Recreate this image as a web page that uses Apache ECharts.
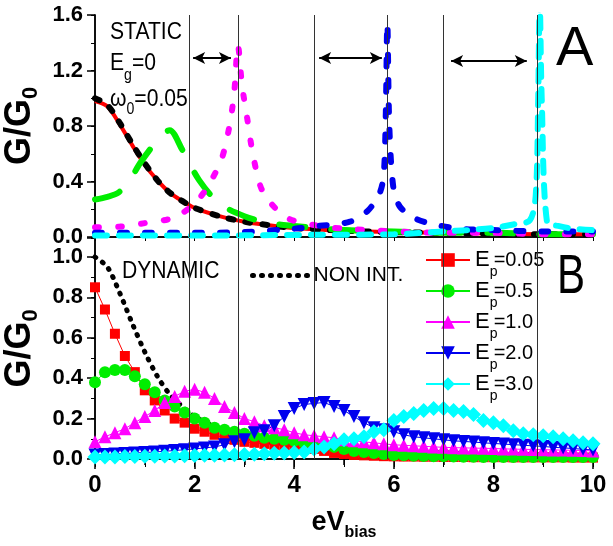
<!DOCTYPE html>
<html>
<head>
<meta charset="utf-8">
<script src="https://cdn.jsdelivr.net/npm/echarts@6/dist/echarts.min.js"></script>
<style>html,body{margin:0;padding:0;background:#fff}#c{width:613px;height:546px}</style>
</head>
<body>
<div id="c"></div>
<script>
const FONT = '"Liberation Sans", Arial, sans-serif';

// panel A (static), [eV, G/G0]
const staticRed = [[0,0.98],[0.25,0.94],[0.5,0.81],[0.75,0.66],[1,0.52],[1.25,0.41],[1.5,0.32],[1.75,0.26],[2,0.21],[2.5,0.15],[3,0.11],[3.5,0.085],[4,0.065],[5,0.045],[6,0.035],[7,0.03],[8,0.025],[9,0.02],[10,0.02]];
const staticBlack = [[0,1.0],[0.25,0.95],[0.5,0.82],[0.75,0.67],[1,0.53],[1.25,0.41],[1.5,0.32],[1.75,0.26],[2,0.21],[2.5,0.15],[3,0.11],[3.5,0.085],[4,0.065],[5,0.045],[6,0.035],[7,0.03],[8,0.025],[9,0.02],[10,0.02]];
const staticGreen = [[0,0.27],[0.25,0.29],[0.47,0.32],[0.7,0.41],[0.9,0.53],[1.26,0.70],[1.5,0.77],[1.75,0.63],[2.09,0.41],[2.5,0.24],[3,0.15],[3.5,0.10],[4,0.08],[5,0.05],[6,0.04],[7,0.03],[8,0.03],[9,0.02],[10,0.02]];
const staticMagenta = [[0,0.07],[0.5,0.075],[1,0.1],[1.5,0.13],[1.74,0.17],[2,0.24],[2.24,0.35],[2.54,0.56],[2.71,0.82],[2.8,1.06],[2.87,1.38],[2.95,1.1],[3.05,0.87],[3.19,0.56],[3.38,0.32],[3.85,0.14],[4.5,0.08],[5,0.06],[6,0.04],[7,0.03],[8,0.03],[9,0.02],[10,0.02]];
const staticBlue = [[0,0.03],[1,0.03],[2,0.03],[3,0.035],[4,0.06],[4.5,0.08],[5.12,0.11],[5.48,0.19],[5.72,0.32],[5.8,0.46],[5.84,0.9],[5.87,1.54],[5.91,0.8],[5.99,0.36],[6.12,0.22],[6.4,0.14],[6.7,0.10],[7.3,0.06],[8,0.05],[9,0.04],[10,0.04]];
const staticCyan = [[0,0.01],[2,0.01],[4,0.015],[6,0.02],[7,0.04],[7.5,0.05],[8,0.065],[8.4,0.09],[8.73,0.12],[8.85,0.3],[8.9,1.0],[8.93,1.7],[8.97,1.0],[9.08,0.10],[9.3,0.08],[9.6,0.06],[10,0.05]];

// panel B (dynamic)
const biasB = [0,0.2,0.4,0.6,0.8,1,1.2,1.4,1.6,1.8,2,2.2,2.4,2.6,2.8,3,3.2,3.4,3.6,3.8,4,4.2,4.4,4.6,4.8,5,5.2,5.4,5.6,5.8,6,6.2,6.4,6.6,6.8,7,7.2,7.4,7.6,7.8,8,8.2,8.4,8.6,8.8,9,9.2,9.4,9.6,9.8,10];
const gEp005 = [0.85,0.74,0.62,0.51,0.43,0.34,0.29,0.24,0.20,0.18,0.15,0.135,0.12,0.105,0.095,0.085,0.08,0.075,0.07,0.065,0.06,0.055,0.05,0.04,0.03,0.025,0.02,0.018,0.016,0.014,0.013,0.012,0.012,0.011,0.011,0.010,0.010,0.010,0.009,0.009,0.009,0.009,0.008,0.008,0.008,0.008,0.008,0.008,0.007,0.007,0.007];
const gEp05 = [0.38,0.43,0.44,0.44,0.41,0.37,0.33,0.29,0.26,0.23,0.20,0.18,0.155,0.145,0.135,0.125,0.115,0.105,0.10,0.095,0.09,0.08,0.075,0.07,0.06,0.05,0.04,0.035,0.03,0.025,0.02,0.018,0.016,0.015,0.014,0.013,0.012,0.011,0.011,0.010,0.010,0.010,0.010,0.010,0.010,0.010,0.010,0.010,0.010,0.010,0.010];
const gEp1 = [0.085,0.11,0.13,0.15,0.18,0.21,0.24,0.28,0.31,0.335,0.345,0.33,0.30,0.26,0.23,0.20,0.185,0.165,0.155,0.145,0.13,0.12,0.115,0.11,0.105,0.095,0.09,0.085,0.08,0.075,0.07,0.068,0.065,0.063,0.06,0.058,0.056,0.055,0.054,0.053,0.052,0.05,0.049,0.048,0.047,0.046,0.045,0.044,0.043,0.042,0.04];
const gEp2 = [0.02,0.022,0.025,0.027,0.03,0.032,0.035,0.038,0.042,0.046,0.05,0.055,0.06,0.07,0.085,0.095,0.13,0.14,0.165,0.21,0.25,0.27,0.275,0.28,0.26,0.24,0.21,0.18,0.155,0.145,0.135,0.12,0.11,0.105,0.10,0.095,0.09,0.087,0.084,0.08,0.077,0.074,0.071,0.068,0.065,0.062,0.058,0.055,0.052,0.048,0.045];
const gEp3 = [0.01,0.01,0.01,0.012,0.012,0.013,0.014,0.015,0.015,0.016,0.017,0.018,0.019,0.02,0.021,0.022,0.024,0.026,0.028,0.03,0.032,0.035,0.05,0.06,0.075,0.095,0.10,0.11,0.135,0.145,0.19,0.21,0.225,0.24,0.25,0.25,0.24,0.235,0.22,0.19,0.18,0.165,0.14,0.125,0.12,0.115,0.11,0.10,0.09,0.08,0.075];

// vertical guide lines and arrows
const guideX = [1.89, 2.87, 4.4, 5.86, 6.99, 8.88];
const arrows = [[1.97, 2.73, 1.29], [4.5, 5.76, 1.29], [7.15, 8.67, 1.268]];

const pair = ys => biasB.map((x, i) => [x, ys[i]]);
const guides = {
  silent: true, symbol: ['none', 'none'], label: {show: false},
  lineStyle: {color: '#333', width: 1, type: 'solid'},
  data: guideX.map(x => ({xAxis: x}))
};
const lbl = {fontFamily: FONT, fontWeight: 'bold', fontSize: 22, color: '#000'};
const frame = {lineStyle: {color: '#000', width: 1.5}};
const yName = {
  name: '{a|G/G}{s|0}', nameLocation: 'middle', nameGap: 46,
  nameTextStyle: {rich: {
    a: {fontFamily: FONT, fontWeight: 'bold', fontSize: 36, color: '#000', lineHeight: 36},
    s: {fontFamily: FONT, fontWeight: 'bold', fontSize: 22, color: '#000', lineHeight: 36, padding: [20, 0, 0, 0]}
  }}
};

const dashed = (name, data, color, dash, extra) => Object.assign({
  name: name, type: 'line', xAxisIndex: 0, yAxisIndex: 0, data: data,
  symbol: 'none', smooth: 0.3,
  lineStyle: {color: color, width: 6, type: dash, cap: 'round'}
}, extra || {});

const dyn = (name, ys, color, symbol, size, rot) => ({
  name: name, type: 'line', xAxisIndex: 2, yAxisIndex: 2, data: pair(ys),
  symbol: symbol, symbolSize: size, symbolRotate: rot || 0,
  itemStyle: {color: color}, lineStyle: {color: color, width: 1}
});

const txt = (left, top, text, size, sx, rich) => ({
  type: 'text', left: left, top: top, scaleX: sx,
  style: rich ? {text: text, rich: rich} : {text: text, fontFamily: FONT, fontSize: size, fill: '#000'}
});
const subRich = pad => ({
  a: {fontFamily: FONT, fontSize: 24, fill: '#000', lineHeight: 24},
  s: {fontFamily: FONT, fontSize: 16, fill: '#000', lineHeight: 24, padding: [pad, 0, 0, 0]}
});

const chart = echarts.init(document.getElementById('c'));
chart.setOption({
  animation: false,
  grid: [
    {left: 95, right: 20, top: 15, height: 222, outerBoundsMode: 'none', containLabel: false},
    {left: 95, right: 20, top: 238, height: 221, outerBoundsMode: 'none', containLabel: false}
  ],
  xAxis: [
    {gridIndex: 0, type: 'value', min: 0, max: 10, interval: 2, position: 'bottom',
      axisLine: frame, axisTick: {show: false}, axisLabel: {show: false}, splitLine: {show: false}},
    {gridIndex: 0, type: 'value', min: 0, max: 10, interval: 2, position: 'top',
      axisLine: frame, axisTick: {inside: true, length: 4}, minorTick: {show: true, splitNumber: 2, length: 4},
      axisLabel: {show: false}, splitLine: {show: false}},
    {gridIndex: 1, type: 'value', min: 0, max: 10, interval: 2, position: 'bottom',
      axisLine: frame, axisTick: {length: 10, lineStyle: {width: 1.5}},
      minorTick: {show: true, splitNumber: 2, length: 6, lineStyle: {color: '#000', width: 1.5}},
      axisLabel: Object.assign({}, lbl, {margin: 14, fontSize: 24}), splitLine: {show: false},
      name: '{a|eV}{s|bias}', nameLocation: 'middle', nameGap: 50,
      nameTextStyle: {rich: {
        a: {fontFamily: FONT, fontWeight: 'bold', fontSize: 27, color: '#000', lineHeight: 28},
        s: {fontFamily: FONT, fontWeight: 'bold', fontSize: 16, color: '#000', lineHeight: 28, padding: [20, 0, 0, 0]}
      }}},
    {gridIndex: 1, type: 'value', min: 0, max: 10, interval: 2, position: 'top',
      axisLine: frame, axisTick: {inside: true, length: 8}, minorTick: {show: true, splitNumber: 2, length: 8},
      axisLabel: {show: false}, splitLine: {show: false}}
  ],
  yAxis: [
    Object.assign({gridIndex: 0, type: 'value', min: 0, max: 1.6, interval: 0.4, position: 'left',
      axisLine: frame, axisTick: {length: 8, lineStyle: {width: 1.5}},
      minorTick: {show: true, splitNumber: 2, length: 4, lineStyle: {color: '#000'}},
      axisLabel: Object.assign({margin: 12, formatter: v => v.toFixed(1)}, lbl), splitLine: {show: false}}, yName),
    {gridIndex: 0, type: 'value', min: 0, max: 1.6, interval: 0.4, position: 'right',
      axisLine: frame, axisTick: {inside: true, length: 4}, minorTick: {show: true, splitNumber: 2, length: 4},
      axisLabel: {show: false}, splitLine: {show: false}},
    Object.assign({gridIndex: 1, type: 'value', min: 0, max: 1.094, interval: 0.2, position: 'left',
      axisLine: frame, axisTick: {length: 8, lineStyle: {width: 1.5}},
      minorTick: {show: true, splitNumber: 2, length: 4, lineStyle: {color: '#000'}},
      axisLabel: Object.assign({margin: 12, showMaxLabel: false, formatter: v => v.toFixed(1)}, lbl), splitLine: {show: false}}, yName),
    {gridIndex: 1, type: 'value', min: 0, max: 1.094, interval: 0.2, position: 'right',
      axisLine: frame, axisTick: {inside: true, length: 4}, minorTick: {show: true, splitNumber: 2, length: 4},
      axisLabel: {show: false}, splitLine: {show: false}}
  ],
  legend: [
    {data: ['Ep=0.05', 'Ep=0.5', 'Ep=1.0', 'Ep=2.0', 'Ep=3.0'], orient: 'vertical', left: 420, top: 236,
      itemWidth: 44, itemHeight: 17, itemGap: -7, selectedMode: false,
      formatter: n => '{e|E}{s|p}{n|' + n.slice(2) + '}',
      textStyle: {rich: {
        e: {fontFamily: FONT, fontSize: 22, color: '#000', lineHeight: 22},
        n: {fontFamily: FONT, fontSize: 20, color: '#000', lineHeight: 22},
        s: {fontFamily: FONT, fontSize: 14, color: '#000', lineHeight: 22, width: 4, padding: [24, 0, 0, 0]}
      }}},
    {data: ['NON INT.'], left: 245, top: 260, itemWidth: 56, itemHeight: 2, selectedMode: false,
      lineStyle: {width: 5, type: [1, 8], cap: 'round'}, itemStyle: {opacity: 0},
      textStyle: {fontFamily: FONT, fontSize: 21, color: '#000'}}
  ],
  graphic: [
    txt(110, 20, 'STATIC', 24, 0.88),
    txt(110, 42, '{a|E}{s|g}{a|=0}', 24, 0.88, subRich(26)),
    txt(110, 80, '{a|ω}{s|0}{a|=0.05}', 24, 0.88, subRich(22)),
    txt(556, 22, 'A', 56, 1),
    txt(122, 259, 'DYNAMIC', 24, 0.88),
    txt(557, 250, 'B', 56, 0.75)
  ],
  series: [
    {name: 'static ref', type: 'line', xAxisIndex: 0, yAxisIndex: 0, data: staticRed, symbol: 'none', smooth: 0.3,
      lineStyle: {color: '#ff0000', width: 4},
      markLine: {silent: true, symbol: ['arrow', 'arrow'], symbolSize: [9, 12], label: {show: false},
        lineStyle: {color: '#000', width: 2, type: 'solid'},
        data: arrows.map(a => [{coord: [a[0], a[2]]}, {coord: [a[1], a[2]]}])}},
    dashed('static black', staticBlack, '#000', [5, 12], {markLine: guides}),
    dashed('static green', staticGreen, '#00ee00', [26, 26]),
    dashed('static magenta', staticMagenta, '#ff00ff', [4, 19]),
    dashed('static blue', staticBlue, '#0000ee', [7, 18]),
    dashed('static cyan', staticCyan, '#00ffff', [12, 12]),
    {name: 'NON INT.', type: 'line', xAxisIndex: 2, yAxisIndex: 2, data: staticBlack, symbol: 'circle', showSymbol: false, smooth: 0.3,
      itemStyle: {color: '#000'}, lineStyle: {color: '#000', width: 5, type: [1, 8], cap: 'round'},
      markLine: guides},
    dyn('Ep=0.05', gEp005, '#ff0000', 'rect', 10),
    dyn('Ep=0.5', gEp05, '#00ee00', 'circle', 12),
    dyn('Ep=1.0', gEp1, '#ff00ff', 'triangle', 13),
    dyn('Ep=2.0', gEp2, '#0000ee', 'triangle', 13, 180),
    dyn('Ep=3.0', gEp3, '#00ffff', 'diamond', 15)
  ]
});
</script>
</body>
</html>
